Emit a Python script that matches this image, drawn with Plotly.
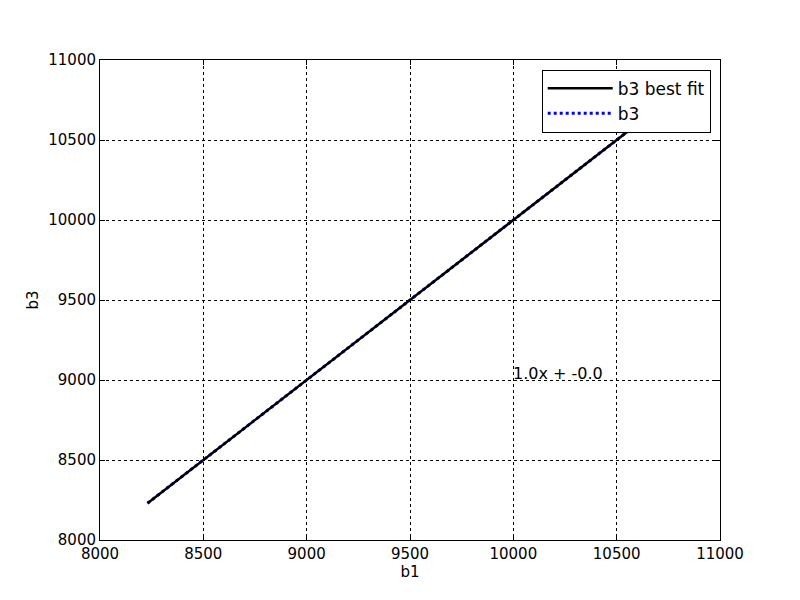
import plotly.graph_objects as go

b1 = [8230, 8400, 8600, 8800, 9000, 9200, 9400, 9600, 9800, 10000, 10200, 10400, 10600, 10750]
b3 = [8230, 8400, 8600, 8800, 9000, 9200, 9400, 9600, 9800, 10000, 10200, 10400, 10600, 10750]
fit_x = [8230, 10750]
fit_y = [8230, 10750]
x_ticks = [8000, 8500, 9000, 9500, 10000, 10500, 11000]
y_ticks = [8000, 8500, 9000, 9500, 10000, 10500, 11000]
annot_text = "1.0x + -0.0"
annot_pos = (10000, 9000)

fig = go.Figure()
fig.add_trace(go.Scatter(x=b1, y=b3, mode="lines", name="b3",
                         line=dict(color="blue", width=3, dash="dot")))
fig.add_trace(go.Scatter(x=fit_x, y=fit_y, mode="lines", name="b3 best fit",
                         line=dict(color="black", width=2.5)))

axis_common = dict(showline=True, linecolor="black", linewidth=1, mirror="ticks",
                   ticks="inside", ticklen=5, tickcolor="black",
                   showgrid=True, gridcolor="black", griddash="dot", gridwidth=1,
                   zeroline=False, tickfont=dict(size=15, color="black"))

fig.update_layout(
    width=800, height=600,
    margin=dict(l=92, r=88, t=52, b=68),
    paper_bgcolor="white", plot_bgcolor="white",
    font=dict(family="DejaVu Sans", color="black"),
    xaxis=dict(range=[8000, 11000], tickvals=x_ticks, ticktext=[str(v) for v in x_ticks],
               title=dict(text="b1", font=dict(size=15), standoff=4), **axis_common),
    yaxis=dict(range=[8000, 11000], tickvals=y_ticks, ticktext=[str(v) for v in y_ticks],
               title=dict(text="b3", font=dict(size=15), standoff=6), **axis_common),
    legend=dict(x=0.985, y=0.98, xanchor="right", yanchor="top", traceorder="reversed",
                bordercolor="black", borderwidth=1, bgcolor="white", itemwidth=65,
                font=dict(size=17, color="black")),
    showlegend=True,
)
fig.add_annotation(x=annot_pos[0], y=annot_pos[1], text=annot_text, showarrow=False,
                   xanchor="left", yanchor="bottom", xshift=-2, yshift=-5,
                   font=dict(size=16, color="black"))

fig.write_html("out.html")
